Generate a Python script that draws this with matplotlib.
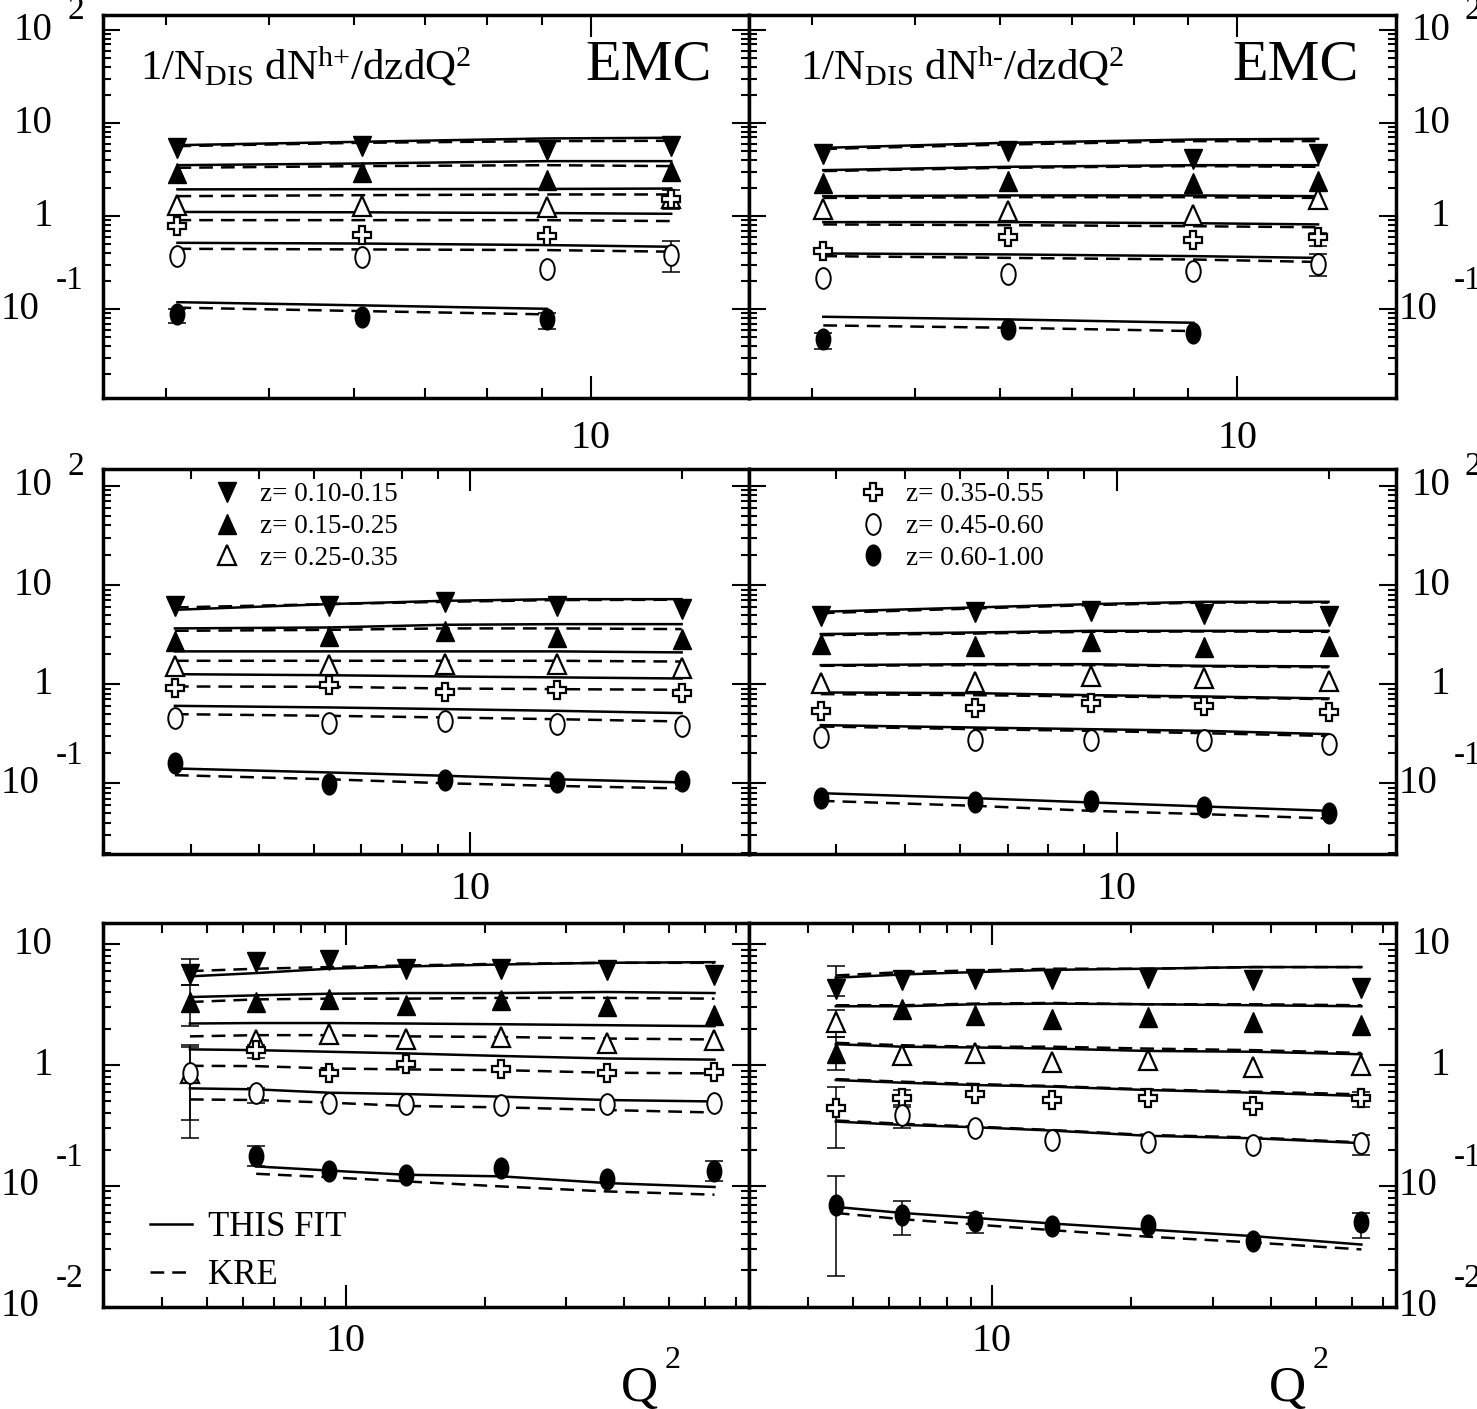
import numpy as np
import matplotlib
matplotlib.use("Agg")
import matplotlib.pyplot as plt
from matplotlib.markers import MarkerStyle
from matplotlib.transforms import Affine2D
from matplotlib.ticker import LogLocator, FuncFormatter, NullFormatter
from matplotlib.lines import Line2D

plt.rcParams['font.family'] = ['Liberation Serif', 'DejaVu Serif']
plt.rcParams['mathtext.fontset'] = 'custom'
plt.rcParams['mathtext.rm'] = 'Liberation Serif'
plt.rcParams['mathtext.it'] = 'Liberation Serif:italic'
plt.rcParams['mathtext.bf'] = 'Liberation Serif:bold'

nan = np.nan

z_labels = ["z= 0.10-0.15", "z= 0.15-0.25", "z= 0.25-0.35",
            "z= 0.35-0.55", "z= 0.45-0.60", "z= 0.60-1.00"]

# Q^2 bins of the three rows
q2_top = [4.1, 6.1, 9.1, 11.9]
q2_mid = [3.8, 6.3, 9.2, 13.3, 20.0]
q2_bot = [4.6, 6.4, 9.2, 13.5, 21.7, 36.7, 62.8]

# ---------------- top row, h+ ----------------
hp1_data = [[5.42, 5.65, 5.12, 5.65],
            [2.92, 2.97, 2.42, 3.05],
            [1.31, 1.28, 1.26, 1.57],
            [0.79, 0.62, 0.61, 1.54],
            [0.372, 0.366, 0.272, 0.378],
            [0.088, 0.083, 0.078, nan]]
hp1_fit = [[5.79, 6.30, 6.84, 6.95],
           [3.53, 3.68, 3.90, 3.90],
           [1.94, 1.95, 1.96, 1.98],
           [1.11, 1.10, 1.08, 1.06],
           [0.517, 0.508, 0.489, 0.469],
           [0.119, 0.110, 0.101, nan]]
hp1_kre = [[5.65, 6.14, 6.40, 6.45],
           [3.31, 3.45, 3.53, 3.45],
           [1.64, 1.68, 1.71, 1.71],
           [0.906, 0.906, 0.906, 0.885],
           [0.446, 0.439, 0.432, 0.415],
           [0.104, 0.0955, 0.088, nan]]
hp1_err = [(5, 0, 0.0715, 0.100), (5, 2, 0.062, 0.092),
           (4, 3, 0.25, 0.54), (2, 3, 1.20, 1.90)]

# ---------------- top row, h- ----------------
hm1_data = [[4.71, 5.0, 4.13, 4.6],
            [2.28, 2.38, 2.28, 2.38],
            [1.20, 1.13, 1.02, 1.51],
            [0.421, 0.60, 0.552, 0.60],
            [0.218, 0.237, 0.257, 0.303],
            [0.0473, 0.0607, 0.0558, nan]]
hm1_fit = [[5.42, 6.14, 6.66, 6.77],
           [3.12, 3.39, 3.53, 3.53],
           [1.64, 1.67, 1.67, 1.64],
           [0.863, 0.863, 0.84, 0.815],
           [0.397, 0.388, 0.372, 0.356],
           [0.083, 0.0777, 0.0715, nan]]
hm1_kre = [[5.27, 5.89, 6.40, 6.40],
           [3.05, 3.31, 3.45, 3.39],
           [1.57, 1.60, 1.60, 1.57],
           [0.815, 0.80, 0.78, 0.76],
           [0.372, 0.356, 0.342, 0.322],
           [0.067, 0.0632, 0.0582, nan]]
hm1_err = [(5, 0, 0.0376, 0.055), (4, 3, 0.227, 0.388), (3, 3, 0.476, 0.66)]

# ---------------- middle row, h+ ----------------
hp2_data = [[6.17, 6.17, 6.77, 6.17, 5.71],
            [2.74, 3.07, 3.45, 2.96, 2.85],
            [1.53, 1.57, 1.59, 1.59, 1.44],
            [0.904, 0.977, 0.824, 0.87, 0.81],
            [0.451, 0.41, 0.427, 0.395, 0.38],
            [0.160, 0.098, 0.107, 0.102, 0.106]]
hp2_fit = [[5.62, 6.42, 6.93, 7.2, 7.2],
           [3.65, 3.73, 3.97, 4.03, 4.03],
           [2.14, 2.14, 2.14, 2.14, 2.09],
           [1.26, 1.23, 1.195, 1.17, 1.14],
           [0.604, 0.582, 0.56, 0.538, 0.51],
           [0.141, 0.1285, 0.119, 0.1097, 0.102]]
hp2_kre = [[5.94, 6.42, 6.77, 7.05, 7.1],
           [3.45, 3.53, 3.65, 3.65, 3.59],
           [1.72, 1.72, 1.72, 1.72, 1.69],
           [0.947, 0.94, 0.904, 0.89, 0.877],
           [0.498, 0.479, 0.461, 0.443, 0.42],
           [0.1207, 0.1097, 0.100, 0.094, 0.0886]]
hp2_err = []

# ---------------- middle row, h- ----------------
hm2_data = [[4.89, 5.29, 5.5, 5.09, 4.89],
            [2.53, 2.44, 2.74, 2.35, 2.44],
            [1.02, 1.055, 1.21, 1.14, 1.08],
            [0.538, 0.568, 0.638, 0.604, 0.526],
            [0.29, 0.274, 0.274, 0.274, 0.248],
            [0.0718, 0.064, 0.0665, 0.057, 0.0499]]
hm2_fit = [[5.37, 5.94, 6.42, 6.77, 6.77],
           [3.2, 3.32, 3.45, 3.45, 3.45],
           [1.555, 1.59, 1.59, 1.53, 1.51],
           [0.824, 0.811, 0.774, 0.751, 0.717],
           [0.386, 0.365, 0.351, 0.338, 0.313],
           [0.0794, 0.0707, 0.064, 0.0583, 0.0527]]
hm2_kre = [[5.2, 5.8, 6.27, 6.65, 6.65],
           [3.12, 3.24, 3.37, 3.40, 3.37],
           [1.53, 1.555, 1.555, 1.51, 1.48],
           [0.793, 0.774, 0.751, 0.734, 0.706],
           [0.374, 0.351, 0.338, 0.32, 0.30],
           [0.0665, 0.0592, 0.0527, 0.0488, 0.0441]]
hm2_err = []

# ---------------- bottom row, h+ ----------------
hp3_data = [[5.71, 7.12, 7.35, 6.28, 6.28, 6.08, 5.53],
            [3.33, 3.33, 3.55, 3.13, 3.44, 3.07, 2.59],
            [0.854, 1.61, 1.82, 1.66, 1.71, 1.53, 1.61],
            [nan, 1.33, 0.865, 1.03, 0.921, 0.854, 0.881],
            [0.854, 0.591, 0.489, 0.477, 0.468, 0.477, 0.483],
            [nan, 0.1775, 0.134, 0.1237, 0.1404, 0.114, 0.134]]
hp3_fit = [[5.43, 5.78, 6.28, 6.56, 6.81, 7.03, 7.12],
           [3.66, 3.78, 3.90, 3.95, 3.95, 4.03, 3.95],
           [2.21, 2.23, 2.23, 2.21, 2.18, 2.14, 2.10],
           [1.35, 1.33, 1.29, 1.25, 1.19, 1.135, 1.11],
           [0.642, 0.63, 0.591, 0.576, 0.548, 0.514, 0.50],
           [nan, 0.145, 0.134, 0.1237, 0.12, 0.1056, 0.098]]
hp3_kre = [[6.0, 6.28, 6.48, 6.68, 6.9, 7.03, 7.03],
           [3.33, 3.5, 3.55, 3.55, 3.6, 3.6, 3.55],
           [1.73, 1.77, 1.77, 1.73, 1.71, 1.66, 1.63],
           [0.987, 0.981, 0.939, 0.921, 0.909, 0.865, 0.854],
           [0.52, 0.514, 0.489, 0.459, 0.447, 0.425, 0.405],
           [nan, 0.126, 0.118, 0.109, 0.099, 0.090, 0.0846]]
hp3_err = [(0, 0, 4.57, 7.59), (1, 0, 2.10, 4.57), (2, 0, 0.35, 1.46),
           (4, 0, 0.25, 1.42), (3, 1, 1.135, 1.46), (4, 1, 0.49, 0.65),
           (5, 1, 0.145, 0.215), (5, 6, 0.11, 0.16)]

# ---------------- bottom row, h- ----------------
hm3_data = [[4.29, 5.09, 5.19, 5.19, 5.29, 5.09, 4.37],
            [1.25, 2.93, 2.59, 2.43, 2.5, 2.28, 2.14],
            [2.28, 1.21, 1.26, 1.065, 1.11, 0.969, 1.0],
            [0.439, 0.531, 0.573, 0.514, 0.531, 0.459, 0.531],
            [nan, 0.387, 0.30, 0.24, 0.229, 0.219, 0.226],
            [0.070, 0.0579, 0.051, 0.047, 0.0479, 0.0349, 0.050]]
hm3_fit = [[5.29, 5.63, 5.89, 6.15, 6.28, 6.48, 6.48],
           [3.07, 3.07, 3.19, 3.23, 3.19, 3.13, 3.07],
           [1.49, 1.42, 1.40, 1.37, 1.31, 1.29, 1.23],
           [0.752, 0.715, 0.684, 0.663, 0.622, 0.591, 0.555],
           [0.341, 0.32, 0.306, 0.287, 0.26, 0.248, 0.226],
           [0.067, 0.0597, 0.0543, 0.0488, 0.0435, 0.0384, 0.0327]]
hm3_kre = [[5.52, 5.89, 6.08, 6.28, 6.28, 6.48, 6.48],
           [3.13, 3.13, 3.23, 3.27, 3.19, 3.19, 3.13],
           [1.53, 1.46, 1.42, 1.42, 1.37, 1.33, 1.26],
           [0.766, 0.729, 0.697, 0.671, 0.63, 0.603, 0.573],
           [0.348, 0.327, 0.31, 0.29, 0.264, 0.252, 0.229],
           [0.0597, 0.053, 0.0479, 0.043, 0.038, 0.034, 0.0298]]
hm3_err = [(0, 0, 3.71, 6.56), (1, 0, 0.91, 1.71), (2, 0, 1.71, 2.84),
           (3, 0, 0.205, 0.663), (3, 1, 0.453, 0.622), (3, 6, 0.453, 0.60),
           (4, 1, 0.30, 0.468), (4, 6, 0.181, 0.265), (5, 0, 0.0179, 0.12),
           (5, 1, 0.0396, 0.0745), (5, 2, 0.0409, 0.0597), (5, 6, 0.0372, 0.0597)]

# ---------------- layout (pixels) ----------------
W, H = 1477, 1409
col_px = [(102.8, 748.5), (748.5, 1395.5)]
row_px = [(15.0, 397.7), (469.3, 854.3), (922.7, 1306.7)]
row_xlim = [(3.49, 14.06), (3.0, 24.9), (2.98, 74.4)]
row_ylim = [(0.0112, 145.0), (0.0192, 147.0), (0.01, 15.1)]
row_decades = [[2, 1, 0, -1], [2, 1, 0, -1], [1, 0, -1, -2]]
row_xpad = [16, 12, 12]

oval = Affine2D().scale(0.8, 1.15)
tall = Affine2D().scale(1.0, 1.1)
marker_styles = [
    dict(marker=MarkerStyle('v', transform=tall), mfc='k', mec='k', ms=13),
    dict(marker=MarkerStyle('^', transform=tall), mfc='k', mec='k', ms=13),
    dict(marker=MarkerStyle('^', transform=tall), mfc='white', mec='k', ms=13, mew=1.6),
    dict(marker='P', mfc='white', mec='k', ms=13, mew=1.6),
    dict(marker=MarkerStyle('o', transform=oval), mfc='white', mec='k', ms=13, mew=1.4),
    dict(marker=MarkerStyle('o', transform=oval), mfc='k', mec='k', ms=13),
]

panels = [
    (0, 0, q2_top, hp1_data, hp1_fit, hp1_kre, hp1_err),
    (0, 1, q2_top, hm1_data, hm1_fit, hm1_kre, hm1_err),
    (1, 0, q2_mid, hp2_data, hp2_fit, hp2_kre, hp2_err),
    (1, 1, q2_mid, hm2_data, hm2_fit, hm2_kre, hm2_err),
    (2, 0, q2_bot, hp3_data, hp3_fit, hp3_kre, hp3_err),
    (2, 1, q2_bot, hm3_data, hm3_fit, hm3_kre, hm3_err),
]

fig = plt.figure(figsize=(W / 100, H / 100), dpi=100)


def decade_labels(ax, decades, side):
    shift = 0 if side == 'left' else 105
    xa = 0 if side == 'left' else 1
    for d in decades:
        v = 10.0 ** d
        main = '1' if d == 0 else '10'
        dx = (-63 if d < 0 else -50) + shift
        ax.annotate(main, xy=(xa, v), xycoords=('axes fraction', 'data'),
                    xytext=(dx, 0), textcoords='offset pixels',
                    ha='right', va='center', fontsize=28, annotation_clip=False)
        if d not in (0, 1):
            dy = 19 if d > 0 else 28
            ax.annotate(str(d), xy=(xa, v), xycoords=('axes fraction', 'data'),
                        xytext=(-19 + shift, dy), textcoords='offset pixels',
                        ha='right', va='center', fontsize=24, annotation_clip=False)


axes = {}
for row, col, q2, data, fit, kre, errs in panels:
    x0, x1 = col_px[col]
    y0, y1 = row_px[row]
    ax = fig.add_axes([x0 / W, 1 - y1 / H, (x1 - x0) / W, (y1 - y0) / H])
    axes[(row, col)] = ax
    ax.set_xscale('log')
    ax.set_yscale('log')
    ax.set_xlim(*row_xlim[row])
    ax.set_ylim(*row_ylim[row])

    handles = []
    for s in range(6):
        ax.plot(q2, fit[s], '-', color='k', lw=1.8, zorder=2)
        ax.plot(q2, kre[s], color='k', lw=1.8, ls=(0, (5.5, 3.2)), zorder=2)
    for s, i, lo, hi in errs:
        yv = data[s][i]
        ax.errorbar([q2[i]], [yv], yerr=[[yv - lo], [hi - yv]], fmt='none',
                    ecolor='k', elinewidth=1.1, capsize=6.5, capthick=1.1, zorder=3)
    for s in range(6):
        h, = ax.plot(q2, data[s], ls='none', zorder=4, **marker_styles[s])
        handles.append(h)

    for sp in ax.spines.values():
        sp.set_linewidth(2.5)
    ax.tick_params(which='both', direction='in', top=True, right=True,
                   left=True, bottom=True, width=1.5, colors='k')
    ax.tick_params(axis='y', which='major', length=12)
    ax.tick_params(axis='y', which='minor', length=6)
    ax.tick_params(axis='x', which='major', length=16, labelsize=29, pad=row_xpad[row])
    ax.tick_params(axis='x', which='minor', length=7)
    ax.xaxis.set_major_locator(LogLocator(base=10, subs=(1.0,)))
    ax.xaxis.set_minor_locator(LogLocator(base=10, subs=np.arange(2, 10)))
    ax.xaxis.set_major_formatter(FuncFormatter(lambda v, p: f'{v:g}'))
    ax.xaxis.set_minor_formatter(NullFormatter())
    ax.yaxis.set_major_locator(LogLocator(base=10, subs=(1.0,)))
    ax.yaxis.set_minor_locator(LogLocator(base=10, subs=np.arange(2, 10)))
    ax.yaxis.set_major_formatter(NullFormatter())
    ax.yaxis.set_minor_formatter(NullFormatter())

    decade_labels(ax, row_decades[row], 'left' if col == 0 else 'right')

    if row == 1:
        sl = slice(0, 3) if col == 0 else slice(3, 6)
        ax.legend(handles=handles[sl], labels=z_labels[sl], loc='upper left',
                  bbox_to_anchor=(0.172, 0.966), frameon=False, fontsize=19.5,
                  handlelength=1.0, handletextpad=0.7, labelspacing=0.25,
                  borderpad=0, borderaxespad=0, numpoints=1)

    if row == 0:
        sign = '{+}' if col == 0 else '\u2010'
        title = r'$\mathregular{1/N_{DIS}\ dN^{h' + sign + r'}/dzdQ^{2}}$'
        tx = 37 if col == 0 else 52
        ax.annotate(title, xy=(0, 1), xycoords='axes fraction', xytext=(tx, -65),
                    textcoords='offset pixels', ha='left', va='baseline', fontsize=31)
        ax.annotate('EMC', xy=(1, 1), xycoords='axes fraction', xytext=(-37, -65),
                    textcoords='offset pixels', ha='right', va='baseline', fontsize=42)

# curve legend in the lower-left panel
axl = axes[(2, 0)]
fit_handle = Line2D([], [], color='k', lw=1.8, ls='-')
kre_handle = Line2D([], [], color='k', lw=1.8, ls=(0, (5.5, 3.2)))
axl.legend(handles=[fit_handle, kre_handle], labels=['THIS FIT', 'KRE'],
           loc='upper left', bbox_to_anchor=(0.073, 0.250), frameon=False,
           fontsize=25, handlelength=1.22, handletextpad=0.45, labelspacing=0.45,
           borderpad=0, borderaxespad=0)

# Q^2 axis titles
for qx in (621, 1269):
    fig.text(qx / W, 1 - 1401 / H, 'Q', fontsize=37, ha='left', va='baseline')
    fig.text((qx + 44) / W, 1 - 1368 / H, '2', fontsize=23, ha='left', va='baseline')

fig.savefig('out.png', dpi=100)
